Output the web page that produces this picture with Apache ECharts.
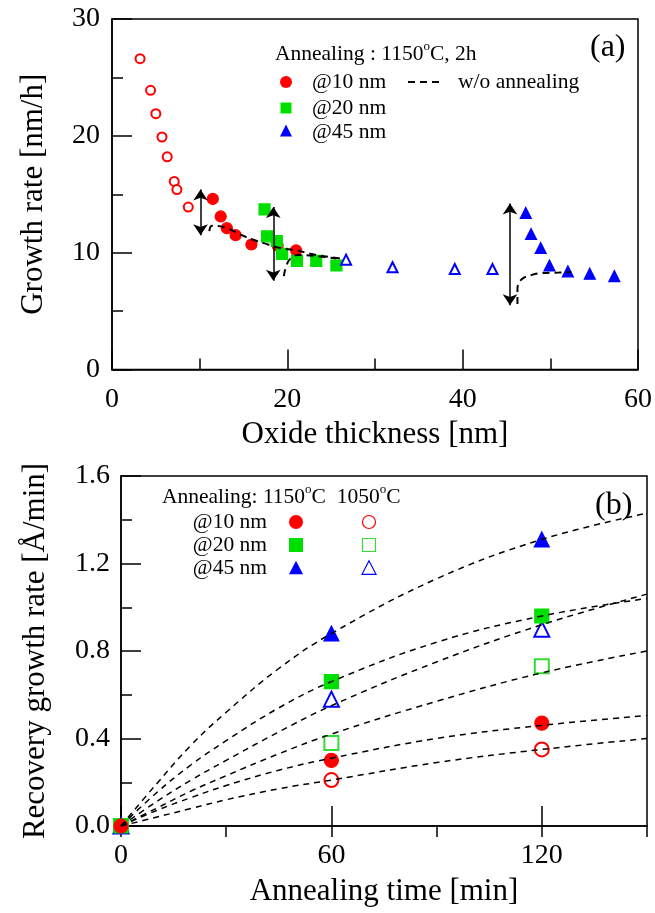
<!DOCTYPE html>
<html><head><meta charset="utf-8">
<script src="https://cdn.jsdelivr.net/npm/echarts@6/dist/echarts.min.js"></script>
<style>html,body{margin:0;padding:0;background:#fff}#c{width:655px;height:913px}</style>
</head><body><div id="c"></div>
<script>
// ---------- Panel (a) data ----------
const topOpen10 = [[3.2,26.6],[4.4,23.9],[5.0,21.9],[5.7,19.9],[6.3,18.2],[7.1,16.1],[7.4,15.4],[8.7,13.9]];
const topFill10 = [[11.5,14.6],[12.4,13.1],[13.1,12.1],[14.1,11.5],[15.9,10.7],[18.9,10.6],[21.0,10.2]];
const topFill20 = [[17.4,13.7],[17.7,11.4],[18.8,11.0],[19.4,9.9],[21.1,9.3],[23.3,9.3],[25.6,8.9]];
const topOpen45 = [[26.7,9.4],[32.0,8.75],[39.1,8.6],[43.4,8.6]];
const topFill45 = [[47.2,13.4],[47.8,11.6],[48.9,10.4],[49.9,8.9],[52.0,8.4],[54.5,8.2],[57.3,8.0]];
const woCurve10 = [[11.1,11.85],[11.4,12.3],[12.7,12.2],[14.8,11.5],[16.1,11.1],[17.8,10.7],[19.1,10.4],[21.0,10.2],[23.3,9.8],[25.6,9.55],[26.5,9.45]];
const woCurve20 = [[19.6,8.0],[19.85,8.8],[20.3,9.45],[21.2,9.8],[23.3,9.7],[25.6,9.5]];
const woCurve45 = [[46.25,5.6],[46.25,6.9],[46.7,7.7],[47.9,8.1],[49.1,8.25],[51.0,8.3],[52.4,8.35]];
const arrowX = [10.1, 18.4, 45.4];
const arrowTop = [15.4, 13.9, 14.2];
const arrowBottom = [11.5, 7.6, 5.5];
const dvLabels = [[12.4,16.6],[21.6,13.3],[48.4,15.4]];
const topXTicks = {min:0, max:60, interval:20};
const topYTicks = {min:0, max:30, interval:10};

// ---------- Panel (b) data ----------
const times = [0, 60, 120];
const b10_1150 = [0, 0.30, 0.47];
const b20_1150 = [0, 0.66, 0.96];
const b45_1150 = [0, 0.88, 1.31];
const b10_1050 = [0, 0.21, 0.35];
const b20_1050 = [0, 0.38, 0.73];
const b45_1050 = [0, 0.58, 0.90];
const fitT = [0, 10, 20, 30, 45, 60, 90, 120, 150];
const fit45_1150 = [0, 0.19, 0.37, 0.52, 0.72, 0.88, 1.13, 1.31, 1.43];
const fit20_1150 = [0, 0.15, 0.28, 0.39, 0.54, 0.66, 0.84, 0.96, 1.04];
const fit45_1050 = [0, 0.11, 0.21, 0.30, 0.43, 0.55, 0.75, 0.92, 1.06];
const fit20_1050 = [0, 0.08, 0.16, 0.23, 0.33, 0.42, 0.57, 0.70, 0.80];
const fit10_1150 = [0, 0.07, 0.13, 0.185, 0.255, 0.31, 0.40, 0.46, 0.505];
const fit10_1050 = [0, 0.04, 0.08, 0.12, 0.17, 0.21, 0.29, 0.35, 0.40];

const F = 'Liberation Serif';
const RED = '#ff0000', GREEN = '#00e000', BLUE = '#0000ff';
const TICK_FS = 28, NAME_FS = 31;
const zip = (xs, ys) => xs.map((x, i) => [x, ys[i]]);

const lineBlk = {color:'#000', width:1.5};
function ax(o){
  return Object.assign({
    type:'value', splitLine:{show:false},
    axisLine:{show:true, onZero:false, lineStyle:lineBlk},
    axisTick:{show:true, inside:true, length:20, lineStyle:lineBlk},
    minorTick:{show:true, splitNumber:2, length:11, lineStyle:lineBlk},
    minorSplitLine:{show:false},
    nameLocation:'middle',
    nameTextStyle:{color:'#000', fontFamily:F, fontSize:NAME_FS}
  }, o);
}
function lab(margin, extra){
  return Object.assign({color:'#000', fontFamily:F, fontSize:TICK_FS, margin}, extra||{});
}

const chart = echarts.init(document.getElementById('c'), null, {renderer:'canvas'});

function scat(name, data, symbol, size, color, xi){
  return {
    type:'scatter', name, data, symbol, symbolSize:size, xAxisIndex:xi, yAxisIndex:xi,
    itemStyle:{color, borderColor:color, borderWidth:1.2, opacity:1}, z:2
  };
}
function dash(name, data, xi, w, pat){
  return {type:'line', name, data, xAxisIndex:xi, yAxisIndex:xi, symbol:'none', smooth:0.4,
    lineStyle:{color:'#000', width:w, type:pat}, z:4};
}

const fitDash = [6,5];
const topDash = [7,5];

const series = [
  scat('open10', topOpen10, 'emptyCircle', 9, RED, 0),
  scat('@10 nm', topFill10, 'circle', 11, RED, 0),
  scat('@20 nm', topFill20, 'rect', 11, GREEN, 0),
  scat('open45', topOpen45, 'emptyTriangle', 10, BLUE, 0),
  scat('@45 nm', topFill45, 'triangle', 11, BLUE, 0),
  Object.assign(dash('w/o annealing', woCurve10, 0, 2, topDash), {
    markLine:{silent:true, animation:false, symbol:['arrow','arrow'], symbolSize:11,
      lineStyle:{color:'#000', width:1.5, type:'solid'}, label:{show:false},
      data: arrowX.map((x,i)=>[{coord:[x, arrowTop[i]]},{coord:[x, arrowBottom[i]]}])}
  }),
  dash('w/o annealing 20', woCurve20, 0, 2, topDash),
  dash('w/o annealing 45', woCurve45, 0, 2, topDash),
  {type:'scatter', name:'dv', data:dvLabels, xAxisIndex:0, yAxisIndex:0, symbolSize:1,
   itemStyle:{opacity:0}, z:5,
   label:{show:true, position:'inside', formatter:()=>'Δv', color:'#000', fontFamily:F,
     fontStyle:'italic', fontSize:28}},
  // panel b fits
  dash('fit45_1150', zip(fitT, fit45_1150), 1, 1.5, fitDash),
  dash('fit20_1150', zip(fitT, fit20_1150), 1, 1.5, fitDash),
  dash('fit45_1050', zip(fitT, fit45_1050), 1, 1.5, fitDash),
  dash('fit20_1050', zip(fitT, fit20_1050), 1, 1.5, fitDash),
  dash('fit10_1150', zip(fitT, fit10_1150), 1, 1.5, fitDash),
  dash('fit10_1050', zip(fitT, fit10_1050), 1, 1.5, fitDash),
  scat('1050 @10 nm', zip(times, b10_1050), 'emptyCircle', 14, RED, 1),
  scat('1050 @20 nm', zip(times, b20_1050), 'emptyRect', 14, '#33dd33', 1),
  scat('1050 @45 nm', zip(times, b45_1050), 'emptyTriangle', 15, BLUE, 1),
  scat('1150 @45 nm', zip(times, b45_1150), 'triangle', 15, BLUE, 1),
  scat('1150 @20 nm', zip(times, b20_1150), 'rect', 14, GREEN, 1),
  scat('1150 @10 nm', zip(times, b10_1150), 'circle', 14, RED, 1)
];

function tri(cx, cy, s, color, filled){
  const h = s*0.9;
  return {type:'polygon', shape:{points:[[cx, cy-h/2-1],[cx-s/2, cy+h/2],[cx+s/2, cy+h/2]]},
    style: filled ? {fill:color} : {fill:'#fff', stroke:color, lineWidth:1.2}};
}
function txt(x, y, text, size, align, rich){
  return {type:'text', x, y, style:{text, font:`${size}px "${F}"`, fill:'#000', align:align||'left', verticalAlign:'middle', rich:rich}};
}
const supRich = {s:{fontFamily:F, fontSize:13, padding:[0,0,14,0], fill:'#000'}};

const graphic = [
  // legend (a)
  txt(275, 54, 'Annealing : 1150{s|o}C, 2h', 21.5, 'left', supRich),
  {type:'circle', shape:{cx:286, cy:82, r:6}, style:{fill:RED}},
  txt(312, 82, '@10 nm', 21.5),
  {type:'rect', shape:{x:280.5, y:102.5, width:11, height:11}, style:{fill:GREEN}},
  txt(312, 108, '@20 nm', 21.5),
  tri(286, 131, 12, BLUE, true),
  txt(312, 132, '@45 nm', 21.5),
  {type:'line', shape:{x1:408, y1:82, x2:441, y2:82}, style:{stroke:'#000', lineWidth:2, lineDash:[7,5]}},
  txt(458, 82, 'w/o annealing', 21.5),
  txt(590, 48, '(a)', 32),
  // legend (b)
  txt(162, 497, 'Annealing: 1150{s|o}C  1050{s|o}C', 21.5, 'left', supRich),
  txt(267, 522, '@10 nm', 21.5, 'right'),
  txt(267, 545, '@20 nm', 21.5, 'right'),
  txt(267, 568, '@45 nm', 21.5, 'right'),
  {type:'circle', shape:{cx:296, cy:522, r:7}, style:{fill:RED}},
  {type:'rect', shape:{x:289, y:538, width:14, height:14}, style:{fill:GREEN}},
  tri(296, 568, 14, BLUE, true),
  {type:'circle', shape:{cx:369, cy:522, r:6.5}, style:{fill:'#fff', stroke:RED, lineWidth:1.2}},
  {type:'rect', shape:{x:362.5, y:538.5, width:13, height:13}, style:{fill:'#fff', stroke:'#33dd33', lineWidth:1.2}},
  tri(369, 568, 14, BLUE, false),
  txt(595, 506, '(b)', 32)
];

const option = {
  animation:false,
  backgroundColor:'#fff',
  grid:[
    {left:112, top:19, width:527, height:350.5, show:true, borderColor:'#000', borderWidth:1.5, backgroundColor:'transparent'},
    {left:121, top:476, width:526, height:350, show:true, borderColor:'#000', borderWidth:1.5, backgroundColor:'transparent'}
  ],
  xAxis:[
    ax({gridIndex:0, min:topXTicks.min, max:topXTicks.max, interval:topXTicks.interval,
      name:'Oxide thickness [nm]', nameGap:50, axisLabel:lab(16)}),
    ax({gridIndex:1, min:0, max:150, interval:60, minorTick:{show:false},
      name:'Annealing time [min]', nameGap:50,
      axisLabel:lab(16, {showMaxLabel:false})}),
    ax({gridIndex:1, min:0, max:150, interval:30, minorTick:{show:false},
      axisLine:{show:false}, axisTick:{show:true, inside:true, length:11, lineStyle:lineBlk},
      axisLabel:{show:false}})
  ],
  yAxis:[
    ax({gridIndex:0, min:topYTicks.min, max:topYTicks.max, interval:topYTicks.interval,
      name:'Growth rate [nm/h]', nameGap:63, axisLabel:lab(12)}),
    ax({gridIndex:1, min:0, max:1.6, interval:0.4,
      name:'Recovery growth rate [Å/min]', nameGap:70,
      axisLabel:lab(11, {formatter:v=>v.toFixed(1)})})
  ],
  series,
  graphic
};
chart.setOption(option);
</script></body></html>
